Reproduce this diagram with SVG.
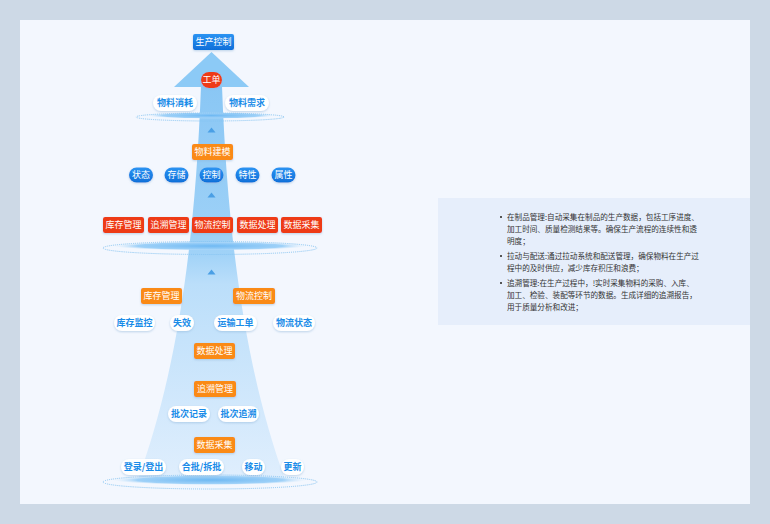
<svg xmlns="http://www.w3.org/2000/svg" width="770" height="524" viewBox="0 0 770 524">
<defs>
<linearGradient id="cone" x1="0" y1="86" x2="0" y2="482" gradientUnits="userSpaceOnUse">
<stop offset="0" stop-color="#84c4f4"/>
<stop offset="0.42" stop-color="#9bd0f7"/>
<stop offset="0.5" stop-color="#b8ddfa"/>
<stop offset="1" stop-color="#dfeefd"/>
</linearGradient>
<radialGradient id="glow" cx="0.5" cy="0.5" r="0.5">
<stop offset="0" stop-color="#6fb9f3"/>
<stop offset="0.75" stop-color="#9fd1f8"/>
<stop offset="1" stop-color="#d6ebfc" stop-opacity="0"/>
</radialGradient>
<linearGradient id="blueG" x1="0" y1="0" x2="0" y2="1">
<stop offset="0" stop-color="#2b93f2"/>
<stop offset="1" stop-color="#0f6fd9"/>
</linearGradient>
<filter id="sh" x="-30%" y="-40%" width="160%" height="180%">
<feDropShadow dx="0" dy="1" stdDeviation="1.3" flood-color="#8fb4d8" flood-opacity="0.55"/>
</filter>
</defs>
<style>
.lbl{font-family:"Noto Sans CJK SC","Noto Sans",sans-serif;font-size:9px;text-anchor:middle;fill:#ffffff}
.blt{fill:#1a8ce8;font-weight:bold}
.wp{fill:#ffffff;filter:url(#sh)}
.bp{fill:url(#blueG);filter:url(#sh)}
.rb{fill:#ee3b12;filter:url(#sh)}
.ob{fill:#fa8a12;filter:url(#sh)}
.ring{fill:none;stroke:#86c4f2;stroke-width:1;stroke-dasharray:1 1}
.tri{fill:#4a9fe5}
.body{font-family:"Noto Sans CJK SC","Noto Sans",sans-serif;font-size:7.6px;fill:#333333}
</style>
<rect width="770" height="524" fill="#cdd9e6"/>
<rect x="20" y="20" width="730" height="484" fill="#f3f7fe"/>
<g id="connectors">
<path d="M201,86 C195,250 175,380 137,482 L286,482 C248,380 228,250 222,86 Z" fill="url(#cone)" opacity="0.95"/>
<polygon points="211.5,52 249,87 174,87" fill="#8ccaf6"/>
<ellipse cx="211" cy="115.5" rx="64" ry="3.2" fill="url(#glow)"/>
<ellipse class="ring" cx="210" cy="117" rx="74" ry="4"/>
<ellipse cx="210" cy="246" rx="97" ry="4.5" fill="url(#glow)"/>
<ellipse class="ring" cx="210" cy="248" rx="107" ry="6.5"/>
<ellipse cx="210" cy="480" rx="97" ry="5" fill="url(#glow)"/>
<ellipse class="ring" cx="210" cy="482" rx="107" ry="7"/>
<polygon class="tri" points="211.5,127.5 215.5,132.5 207.5,132.5"/>
<polygon class="tri" points="211.5,192.5 215.5,197.5 207.5,197.5"/>
<polygon class="tri" points="211.5,269.5 215.5,274.5 207.5,274.5"/>
</g>
<g id="n-scjk"><rect class="bp" x="193" y="34" width="41" height="16" rx="2"/><text class="lbl" x="213.5" y="45.2">生产控制</text></g>
<g id="n-gd"><rect class="rb" x="201" y="72" width="21" height="16" rx="8"/><text class="lbl" x="211.5" y="83.2">工单</text></g>
<g id="n-wlxh"><rect class="wp" x="153" y="95" width="44" height="16" rx="8"/><text class="lbl blt" x="175" y="106.2">物料消耗</text></g>
<g id="n-wlxq"><rect class="wp" x="225" y="95" width="44" height="16" rx="8"/><text class="lbl blt" x="247" y="106.2">物料需求</text></g>
<g id="n-wljm"><rect class="ob" x="192" y="144" width="41" height="16" rx="2"/><text class="lbl" x="212.5" y="155.2">物料建模</text></g>
<g id="n-zt"><rect class="bp" x="129" y="167.5" width="24" height="15" rx="7.5"/><text class="lbl" x="141" y="178.2">状态</text></g>
<g id="n-cc"><rect class="bp" x="164.5" y="167.5" width="24" height="15" rx="7.5"/><text class="lbl" x="176.5" y="178.2">存储</text></g>
<g id="n-kz"><rect class="bp" x="199.5" y="167.5" width="24" height="15" rx="7.5"/><text class="lbl" x="211.5" y="178.2">控制</text></g>
<g id="n-tx"><rect class="bp" x="235.5" y="167.5" width="24" height="15" rx="7.5"/><text class="lbl" x="247.5" y="178.2">特性</text></g>
<g id="n-sx"><rect class="bp" x="271.5" y="167.5" width="24" height="15" rx="7.5"/><text class="lbl" x="283.5" y="178.2">属性</text></g>
<g id="n-r1"><rect class="rb" x="103" y="217" width="41" height="16" rx="2"/><text class="lbl" x="123.5" y="228.2">库存管理</text></g>
<g id="n-r2"><rect class="rb" x="148" y="217" width="41" height="16" rx="2"/><text class="lbl" x="168.5" y="228.2">追溯管理</text></g>
<g id="n-r3"><rect class="rb" x="192" y="217" width="41" height="16" rx="2"/><text class="lbl" x="212.5" y="228.2">物流控制</text></g>
<g id="n-r4"><rect class="rb" x="237" y="217" width="41" height="16" rx="2"/><text class="lbl" x="257.5" y="228.2">数据处理</text></g>
<g id="n-r5"><rect class="rb" x="281" y="217" width="41" height="16" rx="2"/><text class="lbl" x="301.5" y="228.2">数据采集</text></g>
<g id="n-kcgl"><rect class="ob" x="141" y="288" width="41" height="16" rx="2"/><text class="lbl" x="161.5" y="299.2">库存管理</text></g>
<g id="n-wlkz"><rect class="ob" x="233" y="288" width="42" height="16" rx="2"/><text class="lbl" x="254" y="299.2">物流控制</text></g>
<g id="n-kcjk"><rect class="wp" x="114" y="315" width="41" height="16" rx="8"/><text class="lbl blt" x="134.5" y="326.2">库存监控</text></g>
<g id="n-sx2"><rect class="wp" x="170" y="315" width="24" height="16" rx="8"/><text class="lbl blt" x="182" y="326.2">失效</text></g>
<g id="n-ysgd"><rect class="wp" x="214" y="315" width="43" height="16" rx="8"/><text class="lbl blt" x="235.5" y="326.2">运输工单</text></g>
<g id="n-wlzt"><rect class="wp" x="273" y="315" width="42" height="16" rx="8"/><text class="lbl blt" x="294" y="326.2">物流状态</text></g>
<g id="n-sjcl"><rect class="ob" x="194" y="343" width="41" height="16" rx="2"/><text class="lbl" x="214.5" y="354.2">数据处理</text></g>
<g id="n-zsgl"><rect class="ob" x="194" y="381" width="42" height="16" rx="2"/><text class="lbl" x="215" y="392.2">追溯管理</text></g>
<g id="n-pcjl"><rect class="wp" x="168" y="406" width="42" height="16" rx="8"/><text class="lbl blt" x="189" y="417.2">批次记录</text></g>
<g id="n-pczs"><rect class="wp" x="218" y="406" width="41" height="16" rx="8"/><text class="lbl blt" x="238.5" y="417.2">批次追溯</text></g>
<g id="n-sjcj"><rect class="ob" x="194" y="437" width="41" height="16" rx="2"/><text class="lbl" x="214.5" y="448.2">数据采集</text></g>
<g id="n-dl"><rect class="wp" x="121" y="459" width="45" height="16" rx="8"/><text class="lbl blt" x="143.5" y="470.2">登录/登出</text></g>
<g id="n-hp"><rect class="wp" x="179" y="459" width="45" height="16" rx="8"/><text class="lbl blt" x="201.5" y="470.2">合批/拆批</text></g>
<g id="n-yd"><rect class="wp" x="242" y="459" width="23" height="16" rx="8"/><text class="lbl blt" x="253.5" y="470.2">移动</text></g>
<g id="n-gx"><rect class="wp" x="281" y="459" width="23" height="16" rx="8"/><text class="lbl blt" x="292.5" y="470.2">更新</text></g>
<g id="desc">
<rect x="438" y="198" width="312" height="127" fill="#e6eefb"/>
<rect x="500" y="216" width="2" height="2" fill="#555"/>
<rect x="500" y="255" width="2" height="2" fill="#555"/>
<rect x="500" y="282" width="2" height="2" fill="#555"/>
<text class="body" x="507" y="220">在制品管理:自动采集在制品的生产数据，包括工序进度、</text>
<text class="body" x="507" y="232">加工时间、质量检测结果等。确保生产流程的连续性和透</text>
<text class="body" x="507" y="244">明度；</text>
<text class="body" x="507" y="259">拉动与配送:通过拉动系统和配送管理，确保物料在生产过</text>
<text class="body" x="507" y="271">程中的及时供应，减少库存积压和浪费；</text>
<text class="body" x="507" y="286">追溯管理:在生产过程中，!实时采集物料的采购、入库、</text>
<text class="body" x="507" y="298">加工、检验、装配等环节的数据。生成详细的追溯报告，</text>
<text class="body" x="507" y="310">用于质量分析和改进；</text>
</g>
</svg>
